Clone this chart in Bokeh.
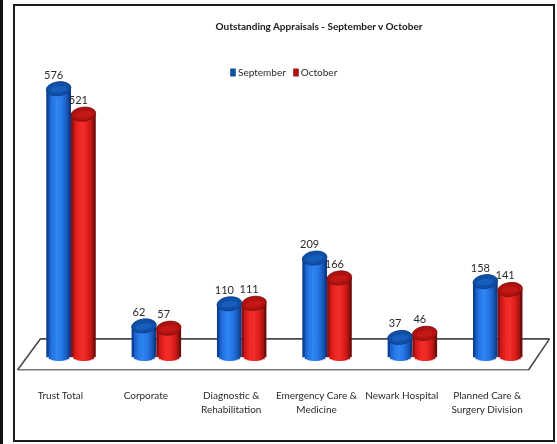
import math
from bokeh.plotting import figure
from bokeh.models import (ColumnDataSource, FixedTicker, Legend, LegendItem, Range1d)
from bokeh.core.properties import value
from bokeh.embed import file_html
from bokeh.resources import INLINE

categories = ["Trust Total", "Corporate", "Diagnostic &\nRehabilitation",
              "Emergency Care &\nMedicine", "Newark Hospital", "Planned Care &\nSurgery Division"]
september = [576, 62, 110, 209, 37, 158]
october = [521, 57, 111, 166, 46, 141]
title = "Outstanding Appraisals - September v October"

FONT = "Lato"
BLUES = ["#0e3f96", "#1a62cc", "#2474e4", "#2a7eec", "#2e84f0", "#2a7eec", "#2474e4", "#1d66d0", "#1753b0", "#0c3a86"]
REDS = ["#8c1010", "#d01a18", "#e4211e", "#ee2824", "#f22c28", "#ee2824", "#e2201d", "#d01a18", "#ad1412", "#720c0c"]
BLUE_TOP, RED_TOP = "#0f4fa6", "#b01210"
PPU_Y = 0.4618      # pixels per value
PPU_X = 85.3        # pixels per category
DEPTH = 0.123       # perspective shift of bars from their labels
BAR_W = 0.29
ELL_H = 13
X0, X1 = -0.551, 5.80

p = figure(width=538, height=434, output_backend="svg", toolbar_location=None,
           x_range=Range1d(X0 + 2 / PPU_X, X1 - 2 / PPU_X), y_range=Range1d(-34.6, 674),
           min_border_left=0, min_border_right=0, min_border_top=0, min_border_bottom=70,
           outline_line_color=None, background_fill_color="white", border_fill_color="white")
p.margin = (6, 0, 0, 15)
p.styles = {"box-shadow": "0 0 0 2px #1c1c1c, -6px 0 0 6px #fff, -15px 0 0 6px #111",
            "filter": "blur(0.35px)"}

p.title.text = title
p.title.text_font = FONT
p.title.text_font_size = "10px"
p.title.text_font_style = "bold"
p.title.text_color = "#1a1a1a"
p.title.align = "left"
p.title.offset = 200
p.title.standoff = 23

p.grid.visible = False
p.yaxis.visible = False
ax = p.xaxis[0]
ax.ticker = FixedTicker(ticks=list(range(len(categories))))
ax.major_label_overrides = {i: c for i, c in enumerate(categories)}
ax.axis_line_color = None
ax.major_tick_line_color = None
ax.minor_tick_line_color = None
ax.major_label_standoff = 12
ax.major_label_text_font = FONT
ax.major_label_text_font_size = "10px"
ax.major_label_text_color = "#2a2a2a"

# floor of the 3-D chart
n = len(categories)
fl_y0, fl_y1 = -34.6, 34
p.patch([X0 + 4 / PPU_X, X0 + 27 / PPU_X, X1 - 6 / PPU_X, X1 - 27 / PPU_X],
        [fl_y0 + 1, fl_y1, fl_y1, fl_y0 + 1], fill_color=None, line_color="#4a4a4a", line_width=1.6)


def cylinder(cx, val, shades, top_col):
    k = len(shades)
    rows = dict(l=[], r=[], b=[], t=[], c=[])
    ry = (ELL_H / 2) / PPU_Y
    for j in range(k):
        a = -BAR_W / 2 + BAR_W * j / k
        b = a + BAR_W / k
        mid = (a + b) / 2 / (BAR_W / 2)
        rows["l"].append(cx + a)
        rows["r"].append(cx + b + (0.008 if j < k - 1 else 0))
        rows["b"].append(-ry * math.sqrt(max(0, 1 - mid * mid)))
        rows["t"].append(val)
        rows["c"].append(shades[j])
    p.quad(left="l", right="r", bottom="b", top="t", fill_color="c", line_color=None,
           source=ColumnDataSource(rows))
    w = BAR_W * PPU_X
    p.ellipse(x=[cx], y=[val], width=w, height=ELL_H + 1, angle=0.12,
              width_units="screen", height_units="screen",
              fill_color=top_col, line_color=shades[-1], line_width=0.8)
    p.ellipse(x=[cx], y=[val - 1], width=w * 0.68, height=ELL_H * 0.5, angle=0.12,
              width_units="screen", height_units="screen",
              fill_color=shades[3], fill_alpha=0.3, line_color=None)


for i in range(n):
    cylinder(i + DEPTH - BAR_W / 2, september[i], BLUES, BLUE_TOP)
    cylinder(i + DEPTH + BAR_W / 2, october[i], REDS, RED_TOP)

for off, vals in ((-BAR_W / 2, september), (BAR_W / 2, october)):
    xs = [i + DEPTH + off for i in range(n)]
    p.text(x=xs, y=vals, text=[str(v) for v in vals], text_font=value(FONT), text_font_size="11px",
           text_color="#2a2a2a", text_align="center", text_baseline="middle", x_offset=-5, y_offset=-14)

r1 = p.vbar(x=[0], top=[0], bottom=[0], width=0, fill_color="#10509f", line_color=None)
r2 = p.vbar(x=[0], top=[0], bottom=[0], width=0, fill_color="#a81414", line_color=None)
legend = Legend(items=[LegendItem(label="September", renderers=[r1]), LegendItem(label="October", renderers=[r2])],
                orientation="horizontal", location=(214, 292), background_fill_alpha=0, border_line_color=None,
                label_text_font=FONT, label_text_font_size="10px", label_text_color="#2a2a2a",
                glyph_width=7, glyph_height=10, label_standoff=2, spacing=6, padding=2, margin=0)
p.add_layout(legend)

open("out.html", "w").write(file_html(p, INLINE))
